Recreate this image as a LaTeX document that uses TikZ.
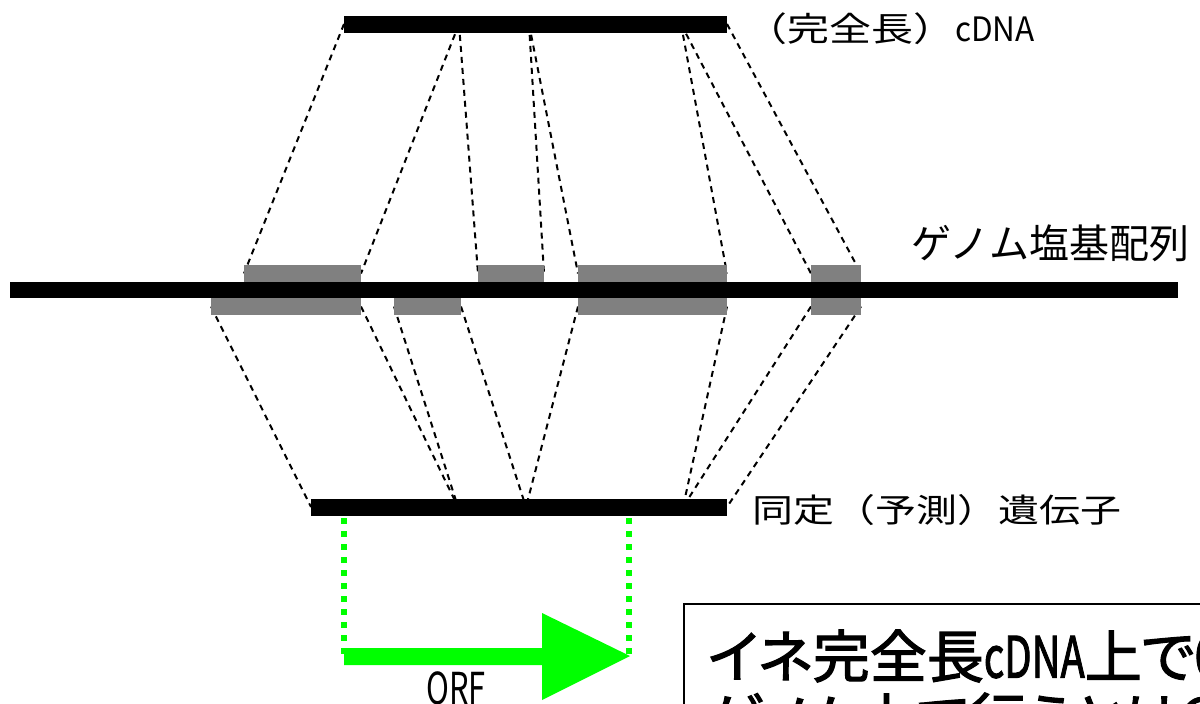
\documentclass[tikz,border=0pt]{standalone}
\usepackage{fontspec}
\newfontfamily\cjk{Noto Sans CJK JP}
\newfontfamily\cjkb{Noto Sans CJK JP}[RawFeature=+palt, FakeBold=2]
\usetikzlibrary{backgrounds}
\definecolor{exongray}{HTML}{808080}
\definecolor{orfgreen}{HTML}{00FF00}
\begin{document}
\begin{tikzpicture}[x=1pt,y=-1pt,
  bar/.style={fill=black, draw=none, inner sep=0pt, outer sep=0pt, minimum height=17pt, anchor=west},
  exon/.style={fill=exongray, draw=none, inner sep=0pt, outer sep=0pt, minimum height=17pt, anchor=west},
  link/.style={draw=black, line width=2pt, dash pattern=on 6pt off 5pt},
  orfline/.style={draw=orfgreen, line width=6pt, dash pattern=on 6pt off 7pt},
  lab/.style={inner sep=0pt, outer sep=0pt, anchor=west, font=\cjk}]
\useasboundingbox (0,0) rectangle (1200,704);
\clip (0,0) rectangle (1200,704);

% bars
\node[bar, minimum width=383pt] (cdna) at (344,24) {};
\node[bar, minimum width=1168pt, minimum height=16pt] (genome) at (10,290) {};
\node[bar, minimum width=416pt] (gene) at (311,507) {};

% exons above the genome
\node[exon, minimum width=117pt] (t1) at (244,273.5) {};
\node[exon, minimum width=66pt]  (t2) at (478,273.5) {};
\node[exon, minimum width=149pt] (t3) at (578,273.5) {};
\node[exon, minimum width=50pt]  (t4) at (811,273.5) {};
% exons below the genome
\node[exon, minimum width=150pt] (b1) at (211,306.5) {};
\node[exon, minimum width=67pt]  (b2) at (394,306.5) {};
\node[exon, minimum width=149pt] (b3) at (578,306.5) {};
\node[exon, minimum width=50pt]  (b4) at (811,306.5) {};

% splice points
\coordinate (c1) at (459,24);
\coordinate (c2) at (529,24);
\coordinate (c3) at (681,24);
\coordinate (s1) at (458,507);
\coordinate (s2) at (526,507);
\coordinate (s3) at (683,507);

\begin{pgfonlayer}{background}
\draw[link] (cdna.west) -- (t1.west);
\draw[link] (c1) -- (t1.east);
\draw[link] (c1) -- (t2.west);
\draw[link] (c2) -- (t2.east);
\draw[link] (c2) -- (t3.west);
\draw[link] (c3) -- (t3.east);
\draw[link] (c3) -- (t4.west);
\draw[link] (cdna.east) -- (t4.east);
\draw[link] (b1.west) -- (gene.west);
\draw[link] (b1.east) -- (s1);
\draw[link] (b2.west) -- (s1);
\draw[link] (b2.east) -- (s2);
\draw[link] (b3.west) -- (s2);
\draw[link] (b3.east) -- (s3);
\draw[link] (b4.west) -- (s3);
\draw[link] (b4.east) -- (gene.east);
\end{pgfonlayer}

% labels
\node[lab] (lcdna) at (745,29) {\fontsize{42}{42}\selectfont\scalebox{1}[0.8]{（完全長）\scalebox{0.75}[1]{cDNA}}};
\node[lab] (lgenome) at (911,243) {\fontsize{40}{40}\selectfont ゲノム塩基配列};
\node[lab] (lgene) at (752,510) {\fontsize{41}{41}\selectfont\scalebox{1}[0.8]{同定（予測）遺伝子}};

% ORF
\coordinate (oLt) at (344,518);
\coordinate (oLb) at (344,656);
\coordinate (oRt) at (629,518);
\coordinate (oRb) at (629,656);
\fill[orfgreen] (344,648) -- (542,648) -- (542,613) -- (630,656) -- (542,700) -- (542,665) -- (344,665) -- cycle;
\draw[orfline] (oLt) -- (oLb);
\draw[orfline] (oRt) -- (oRb);
\node[inner sep=0pt, anchor=base, font=\cjk] (lorf) at (456,704) {\fontsize{44}{44}\selectfont\scalebox{0.7}[1]{ORF}};

% note box
\node[draw=black, line width=1.5pt, fill=white, anchor=north west, minimum width=600pt, minimum height=200pt, inner sep=0pt] (note) at (683,603) {};
\node[lab, font=\cjkb] (n1) at (708,656) {\fontsize{57}{57}\selectfont イネ完全長\scalebox{0.7}[1]{cDNA}上で\scalebox{0.7}[1]{ORF}};
\node[lab, font=\cjkb] (n2) at (708,719) {\fontsize{57}{57}\selectfont ゲノム上で行うとは？};
\end{tikzpicture}
\end{document}
